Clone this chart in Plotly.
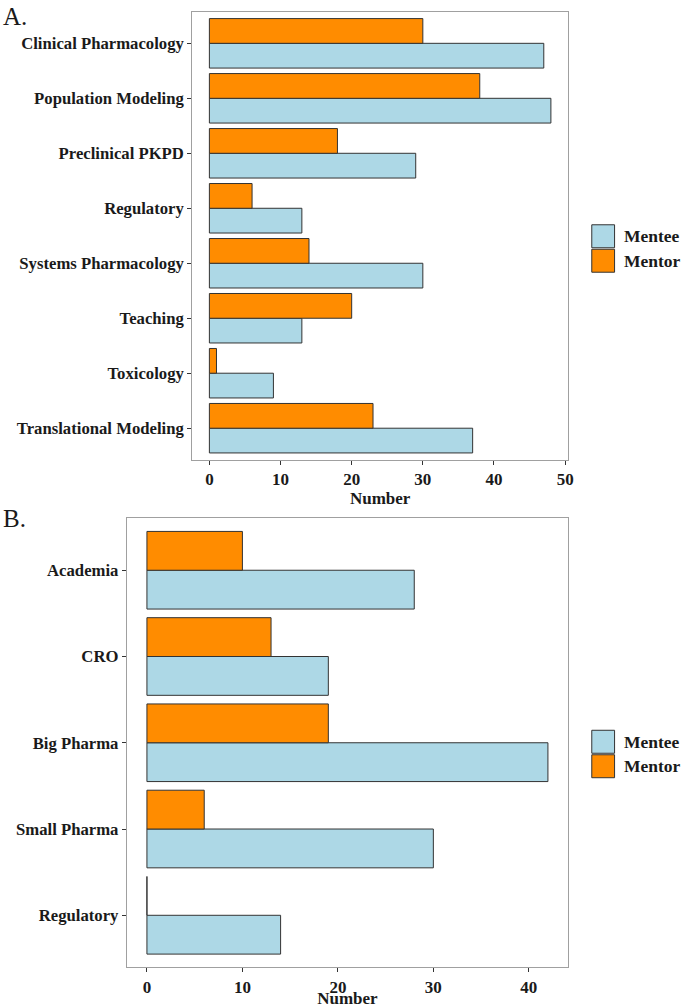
import plotly.graph_objects as go

# Panel A data
cats_a = ["Clinical Pharmacology", "Population Modeling", "Preclinical PKPD", "Regulatory",
          "Systems Pharmacology", "Teaching", "Toxicology", "Translational Modeling"]
mentee_a = [47, 48, 29, 13, 30, 13, 9, 37]
mentor_a = [30, 38, 18, 6, 14, 20, 1, 23]

# Panel B data
cats_b = ["Academia", "CRO", "Big Pharma", "Small Pharma", "Regulatory"]
mentee_b = [28, 19, 42, 30, 14]
mentor_b = [10, 13, 19, 6, 0]

x_ticks_a = [0, 10, 20, 30, 40, 50]
x_ticks_b = [0, 10, 20, 30, 40]

MENTEE = "#ADD8E6"
MENTOR = "#FF8C00"
FONT = "Liberation Serif"
W, H = 685, 1008

fig = go.Figure()

def add_panel(cats, mentee, mentor, xa, ya):
    order = cats[::-1]
    fig.add_trace(go.Bar(y=order, x=mentee[::-1], orientation="h", name="Mentee",
                         marker=dict(color=MENTEE, line=dict(color="#333333", width=1)),
                         xaxis=xa, yaxis=ya, showlegend=False))
    fig.add_trace(go.Bar(y=order, x=mentor[::-1], orientation="h", name="Mentor",
                         marker=dict(color=MENTOR, line=dict(color="#333333", width=1)),
                         xaxis=xa, yaxis=ya, showlegend=False))

add_panel(cats_a, mentee_a, mentor_a, "x", "y")
add_panel(cats_b, mentee_b, mentor_b, "x2", "y2")

def px(v):
    return v / W

def py(v):
    return 1 - v / H

axis_common = dict(showline=True, linecolor="#a0a0a0", linewidth=1.2, mirror=True,
                   ticks="outside", ticklen=4, tickcolor="#333333", tickwidth=1,
                   showgrid=False, zeroline=False)

xtick_font = dict(family=FONT, size=17, color="#1a1a1a", weight="bold")
ytick_font = dict(family=FONT, size=16.7, color="#1a1a1a", weight="bold")
title_font = dict(family=FONT, size=17, color="#1a1a1a", weight="bold")

fig.update_layout(
    width=W, height=H,
    margin=dict(l=0, r=0, t=0, b=0),
    paper_bgcolor="white", plot_bgcolor="white",
    barmode="group", bargap=0.1, bargroupgap=0,
    font=dict(family=FONT, color="#1a1a1a"),
    xaxis=dict(axis_common, domain=[px(194), px(573)], range=[-2.4, 50.4],
               tickvals=x_ticks_a, anchor="y", tickfont=xtick_font,
               title=dict(text="Number", font=title_font, standoff=0)),
    yaxis=dict(axis_common, domain=[py(460), py(12)], range=[-0.57, 7.57],
               categoryorder="array", categoryarray=cats_a[::-1], anchor="x",
               tickfont=ytick_font),
    xaxis2=dict(axis_common, domain=[px(128), px(573)], range=[-2.1, 44.1],
                tickvals=x_ticks_b, anchor="y2", tickfont=xtick_font,
                title=dict(text="Number", font=title_font, standoff=0)),
    yaxis2=dict(axis_common, domain=[py(968), py(519)], range=[-0.6, 4.6],
                categoryorder="array", categoryarray=cats_b[::-1], anchor="x2",
                tickfont=ytick_font),
)

# Panel labels
fig.add_annotation(text="A.", x=px(1), y=py(1), xref="paper", yref="paper",
                   xanchor="left", yanchor="top", showarrow=False,
                   font=dict(family=FONT, size=25, color="#1a1a1a"))
fig.add_annotation(text="B.", x=px(1), y=py(503), xref="paper", yref="paper",
                   xanchor="left", yanchor="top", showarrow=False,
                   font=dict(family=FONT, size=25, color="#1a1a1a"))

# Legends (one per panel)
def add_legend(top):
    for i, (lab, col) in enumerate([("Mentee", MENTEE), ("Mentor", MENTOR)]):
        y0 = top + i * 24.5
        fig.add_shape(type="rect", xref="paper", yref="paper",
                      x0=px(597), x1=px(620), y0=py(y0 + 23), y1=py(y0),
                      fillcolor=col, line=dict(color="#333333", width=1))
        fig.add_annotation(text="<b>%s</b>" % lab, xref="paper", yref="paper",
                           x=px(627), y=py(y0 + 11.5), xanchor="left", yanchor="middle",
                           showarrow=False, font=dict(family=FONT, size=17.5, color="#1a1a1a"))

add_legend(225)
add_legend(731)

fig.write_html("out.html")
